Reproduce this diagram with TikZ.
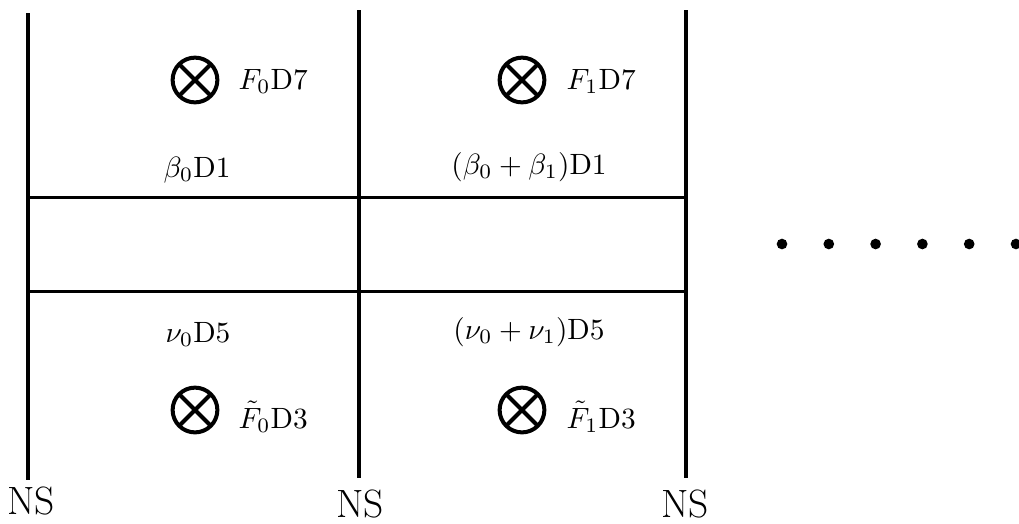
\documentclass[tikz,border=0pt]{standalone}
\usepackage{tikz}
\usetikzlibrary{positioning}

\begin{document}
\begin{tikzpicture}[x=0.525pt,y=-0.525pt,
      wall/.style={line width=2pt},
      lbl/.style={font=\normalsize,scale=1.54,inner sep=0pt},
      ns/.style={font=\huge,inner sep=0pt},
      otim/.style={circle,draw,line width=2.1pt,minimum size=23.5pt,inner sep=0pt,
                   path picture={\draw[line width=2.1pt]
                     (path picture bounding box.south west) -- (path picture bounding box.north east)
                     (path picture bounding box.north west) -- (path picture bounding box.south east);}},
      dot/.style={circle,fill,inner sep=0pt,minimum size=5.6pt}]
    \useasboundingbox (0,0) rectangle (1019,523);
    \draw[wall] (28,13) -- (28,480);
    \draw[wall] (359,10) -- (359,478);
    \draw[wall] (686,10) -- (686,478);
    \draw[wall] (28,197.5) -- (686,197.5);
    \draw[wall] (28,291.5) -- (686,291.5);
    \node[ns] (ns0) at (31,501) {NS};
    \node[ns] (ns1) at (360,504) {NS};
    \node[ns] (ns2) at (685,504) {NS};
    \node[otim] (o0) at (195,80) {};
    \node[otim] (o1) at (522,80) {};
    \node[otim] (u0) at (195,410) {};
    \node[otim] (u1) at (522,410) {};
    \node[lbl,anchor=base west] (f0) at (238,89) {$F_0$D7};
    \node[lbl,anchor=base west] (f1) at (566,89) {$F_1$D7};
    \node[lbl,anchor=base west] (g0) at (238,428) {$\tilde{F}_0$D3};
    \node[lbl,anchor=base west] (g1) at (566,428) {$\tilde{F}_1$D3};
    \node[lbl,anchor=base] (b0) at (197,177) {$\beta_0$D1};
    \node[lbl,anchor=base] (b1) at (529,174) {$(\beta_0+\beta_1)$D1};
    \node[lbl,anchor=base] (n0) at (198,342) {$\nu_0$D5};
    \node[lbl,anchor=base] (n1) at (529,339) {$(\nu_0+\nu_1)$D5};
    \foreach \i in {0,...,5}
      \node[dot] (d\i) at (782+46.8*\i,244) {};
  \end{tikzpicture}
\end{document}
